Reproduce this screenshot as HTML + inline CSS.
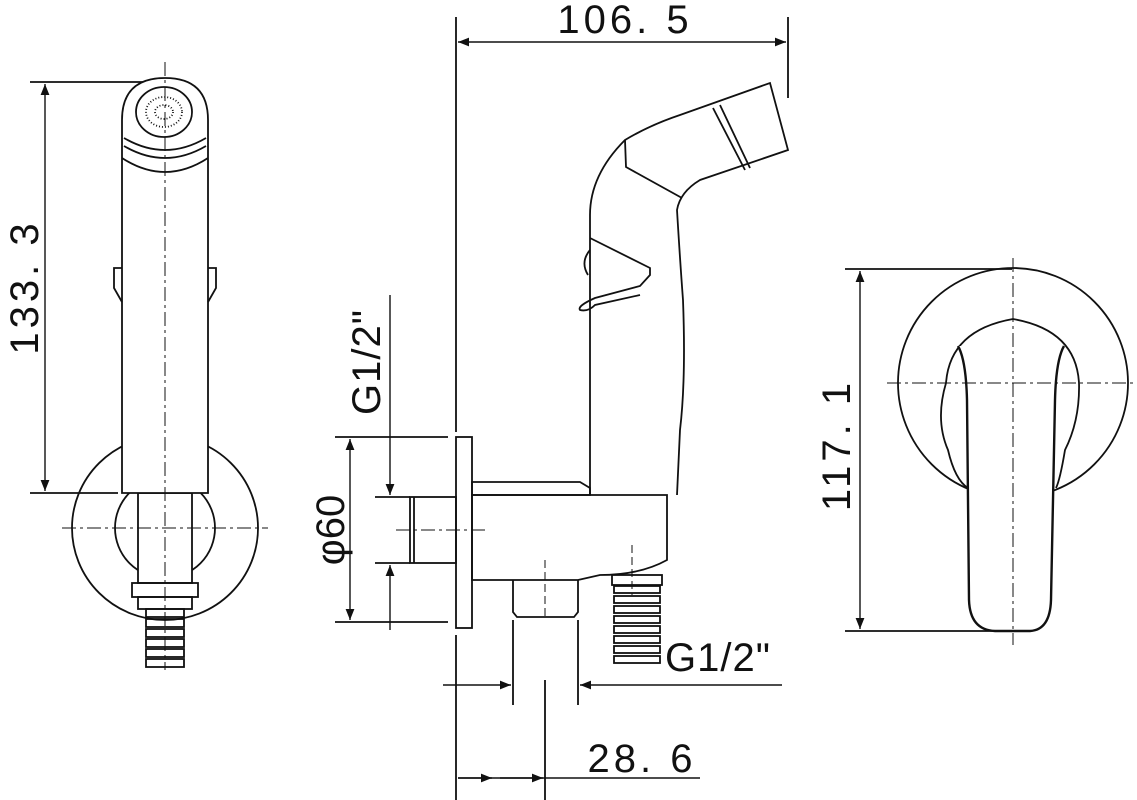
<!DOCTYPE html>
<html><head><meta charset="utf-8"><style>
html,body{margin:0;padding:0;background:#fff;width:1137px;height:800px;overflow:hidden}
svg{display:block}
text{font-family:"Liberation Sans",sans-serif;fill:#111}
</style></head><body>
<svg width="1137" height="800" viewBox="0 0 1137 800" xmlns="http://www.w3.org/2000/svg">
<defs>
<marker id="a" viewBox="0 0 10 10" refX="10" refY="5" markerWidth="18" markerHeight="11" markerUnits="userSpaceOnUse" orient="auto-start-reverse"><path d="M0,1 L10,5 L0,9 Z" fill="#111"/></marker>
</defs>
<g stroke="#111" stroke-width="1.8" fill="none">
<!-- LEFT VIEW -->
<line x1="30" y1="82" x2="160" y2="82"/>
<line x1="30" y1="493" x2="118" y2="493"/>
<line x1="45" y1="84" x2="45" y2="491" marker-start="url(#a)" marker-end="url(#a)" stroke-width="1.4"/>
<ellipse cx="165" cy="528" rx="93" ry="92"/>
<circle cx="165" cy="528" r="50"/>
<rect x="138" y="493" width="54" height="90" fill="#fff"/>
<path d="M122,493 V120 Q122,78 165,78 Q208,78 208,120 V493 Z" fill="#fff"/>
<path d="M124,138 Q165,162 206,138 M124,146 Q165,170 206,146 M122,158 Q165,186 208,158" />
<ellipse cx="164" cy="112" rx="28" ry="25"/>
<ellipse cx="164" cy="112" rx="18" ry="15" stroke-dasharray="1 2"/>
<ellipse cx="164" cy="112" rx="9" ry="7" stroke-dasharray="1 2"/>
<path d="M122,268 h-8 v20 l8,14 M208,268 h8 v20 l-8,14"/>
<rect x="132" y="583" width="66" height="14"/>
<rect x="138" y="597" width="54" height="12"/>
<g>
<rect x="146" y="609" width="38" height="8"/><rect x="146" y="619" width="38" height="8"/><rect x="146" y="629" width="38" height="8"/><rect x="146" y="639" width="38" height="8"/><rect x="146" y="649" width="38" height="8"/><rect x="146" y="659" width="38" height="8"/>
</g>
<line x1="165" y1="62" x2="165" y2="670" stroke-dasharray="14 4 3 4" stroke-width="1"/>
<line x1="62" y1="528" x2="268" y2="528" stroke-dasharray="14 4 3 4" stroke-width="1"/>

<!-- MIDDLE VIEW -->
<line x1="456" y1="17" x2="456" y2="432"/>
<line x1="456" y1="635" x2="456" y2="800"/>
<line x1="788" y1="17" x2="788" y2="98"/>
<line x1="458" y1="42" x2="786" y2="42" marker-start="url(#a)" marker-end="url(#a)" stroke-width="1.4"/>
<rect x="456" y="437" width="16" height="191" fill="#fff"/>
<rect x="410" y="497" width="46" height="66"/>
<line x1="414" y1="497" x2="414" y2="563"/>
<path d="M472,482 H580 L590,488 V495 H472 Z"/>
<path d="M472,495 H667 V560 Q640,575 600,575 L578,580 H472 Z"/>
<path d="M513,580 V612 L517,617 H574 L578,612 V580"/>
<path d="M590,495 V215 Q590,175 625,140 Q650,125 680,115 L770,83 L788,150 L700,180 Q680,192 677,210 Q680,260 683,300 Q686,380 680,430 L677,495"/>
<path d="M625,140 L626,167 L682,198 M713,108 L745,170 M720,105 L750,168"/>
<path d="M590,238 L650,268 L650,275 L640,286 L595,298 Q577,306 580,310 Q588,312 595,305 L640,295 M590,250 Q580,262 588,275"/>
<rect x="612" y="575" width="50" height="10"/>
<g>
<rect x="614" y="586" width="46" height="7"/><rect x="614" y="596" width="46" height="7"/><rect x="614" y="606" width="46" height="7"/><rect x="614" y="616" width="46" height="7"/><rect x="614" y="626" width="46" height="7"/><rect x="614" y="636" width="46" height="7"/><rect x="614" y="646" width="46" height="7"/><rect x="614" y="656" width="46" height="7"/>
</g>
<line x1="396" y1="530" x2="488" y2="530" stroke-dasharray="14 4 3 4" stroke-width="1"/>
<line x1="545" y1="560" x2="545" y2="620" stroke-dasharray="8 4" stroke-width="1"/>
<line x1="632" y1="545" x2="632" y2="595" stroke-dasharray="8 4" stroke-width="1"/>
<!-- phi60 -->
<line x1="335" y1="437" x2="448" y2="437"/>
<line x1="335" y1="622" x2="448" y2="622"/>
<line x1="350" y1="439" x2="350" y2="620" marker-start="url(#a)" marker-end="url(#a)" stroke-width="1.4"/>
<!-- G1/2 left -->
<line x1="375" y1="497" x2="410" y2="497"/>
<line x1="375" y1="563" x2="410" y2="563"/>
<line x1="390" y1="295" x2="390" y2="495" marker-end="url(#a)" stroke-width="1.4"/>
<line x1="390" y1="630" x2="390" y2="565" marker-end="url(#a)" stroke-width="1.4"/>
<!-- bottom dims -->
<line x1="513" y1="620" x2="513" y2="705"/>
<line x1="578" y1="620" x2="578" y2="705"/>
<line x1="545" y1="680" x2="545" y2="800"/>
<line x1="443" y1="685" x2="511" y2="685" marker-end="url(#a)" stroke-width="1.4"/>
<line x1="782" y1="685" x2="580" y2="685" marker-end="url(#a)" stroke-width="1.4"/>
<line x1="458" y1="778" x2="700" y2="778" stroke-width="1.4"/>
<line x1="458" y1="778" x2="492" y2="778" marker-end="url(#a)" stroke-width="1.4"/>
<line x1="500" y1="778" x2="543" y2="778" marker-end="url(#a)" stroke-width="1.4"/>

<!-- RIGHT VIEW -->
<line x1="845" y1="269" x2="1012" y2="269"/>
<line x1="845" y1="631" x2="1000" y2="631"/>
<line x1="860" y1="271" x2="860" y2="629" marker-start="url(#a)" marker-end="url(#a)" stroke-width="1.4"/>
<circle cx="1013" cy="383" r="115"/>
<path d="M968,488 Q955,480 948,450 Q935,420 946,383 Q950,330 1013,319 Q1076,330 1079,383 Q1080,420 1065,450 Q1060,480 1056,488" fill="#fff"/>
<path d="M958,346 Q966,360 967,400 L969,600 Q970,630 995,631 L1030,631 Q1050,630 1051,600 L1055,400 Q1056,360 1064,346" fill="#fff" stroke-width="2.4"/>
<line x1="1013" y1="258" x2="1013" y2="645" stroke-dasharray="14 4 3 4" stroke-width="1"/>
<line x1="887" y1="383" x2="1137" y2="383" stroke-dasharray="14 4 3 4" stroke-width="1"/>
</g>
<g font-size="40">
<text x="625" y="33" text-anchor="middle" letter-spacing="4">106. 5</text>
<text x="642" y="772" text-anchor="middle" letter-spacing="4">28. 6</text>
<text x="718" y="671" text-anchor="middle" letter-spacing="1">G1/2"</text>
<text transform="translate(38,287) rotate(-90)" text-anchor="middle" letter-spacing="4">133. 3</text>
<text transform="translate(850,445) rotate(-90)" text-anchor="middle" letter-spacing="4">117. 1</text>
<text transform="translate(344,530) rotate(-90)" text-anchor="middle">φ60</text>
<text transform="translate(380,362) rotate(-90)" text-anchor="middle" letter-spacing="1">G1/2"</text>
</g>
</svg>
</body></html>
